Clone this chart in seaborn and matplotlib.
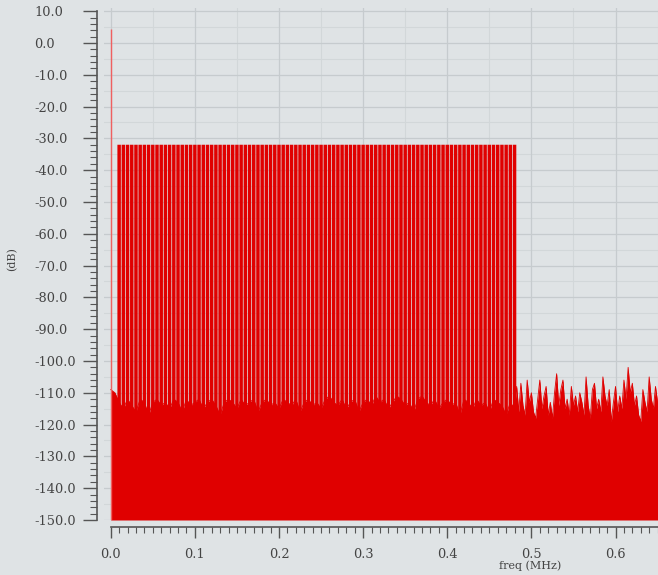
import numpy as np
import pandas as pd
import seaborn as sns
import matplotlib.pyplot as plt
from matplotlib.ticker import MultipleLocator, FormatStrFormatter

# Dados: tons em -32 dB, piso de ruido, pico DC
tone_freq = [0.010, 0.015, 0.020, 0.025, 0.030, 0.035, 0.040, 0.045, 0.050, 0.055,
             0.060, 0.065, 0.070, 0.075, 0.080, 0.085, 0.090, 0.095, 0.100, 0.105,
             0.110, 0.115, 0.120, 0.125, 0.130, 0.135, 0.140, 0.145, 0.150, 0.155,
             0.160, 0.165, 0.170, 0.175, 0.180, 0.185, 0.190, 0.195, 0.200, 0.205,
             0.210, 0.215, 0.220, 0.225, 0.230, 0.235, 0.240, 0.245, 0.250, 0.255,
             0.260, 0.265, 0.270, 0.275, 0.280, 0.285, 0.290, 0.295, 0.300, 0.305,
             0.310, 0.315, 0.320, 0.325, 0.330, 0.335, 0.340, 0.345, 0.350, 0.355,
             0.360, 0.365, 0.370, 0.375, 0.380, 0.385, 0.390, 0.395, 0.400, 0.405,
             0.410, 0.415, 0.420, 0.425, 0.430, 0.435, 0.440, 0.445, 0.450, 0.455,
             0.460, 0.465, 0.470, 0.475, 0.480]
tone_db = -32.0
dc_freq = 0.0
dc_db = 4.3

# piso de ruido (dB) na banda dos tons, a cada 0.005 MHz de 0.000 a 0.480
noise_db_a = [-109, -110,
              -113, -115, -112, -114, -116, -112, -113, -117, -113, -112, -114, -113, -115, -112, -113, -116, -112, -114, -113,
              -112, -115, -113, -112, -114, -117, -113, -112, -113, -115, -112, -114, -113, -112, -116, -113, -112, -114, -113, -115,
              -112, -113, -114, -112, -116, -113, -112, -114, -113, -115, -112, -111, -113, -114, -112, -115, -113, -112, -116, -113,
              -112, -114, -111, -113, -112, -115, -113, -111, -112, -114, -113, -116, -112, -111, -113, -114, -112, -115, -113, -112,
              -114, -113, -117, -112, -113, -115, -112, -114, -113, -116, -112, -113, -114, -117, -113, -115]
# piso de ruido acima da banda, a cada 0.0025 MHz de 0.4825 a 0.650
noise_db_b = [-108, -116, -107, -114, -117, -106, -113, -110, -116, -118,
              -112, -106, -115, -111, -108, -117, -113, -118, -110, -104,
              -114, -109, -106, -115, -112, -117, -108, -114, -111, -116,
              -110, -113, -117, -105, -114, -118, -109, -107, -115, -112,
              -116, -105, -111, -114, -109, -119, -113, -108, -116, -111,
              -115, -106, -112, -102, -110, -107, -114, -111, -117, -119,
              -109, -113, -116, -105, -112, -115, -108, -113]

freq_a = np.linspace(0.0, 0.48, len(noise_db_a))
freq_b = np.linspace(0.4825, 0.65, len(noise_db_b))
df = pd.DataFrame({'freq': np.concatenate([freq_a, freq_b]),
                   'db': noise_db_a + noise_db_b})

red = '#e00000'
bg = '#dfe3e5'
txt = '#444444'
floor = -150

plt.rcParams['font.family'] = ['DejaVu Serif']
fig = plt.figure(figsize=(6.58, 5.75), dpi=100, facecolor=bg)
ax = fig.add_axes([104 / 658, 1 - 520 / 575, 1 - 104 / 658, (520 - 8) / 575])
ax.set_facecolor(bg)

# grade
for gx in [0.05, 0.15, 0.25, 0.35, 0.45, 0.55, 0.65]:
    ax.axvline(gx, color='#d2d7d9', lw=0.8, zorder=0)
for gy in range(-145, 10, 10):
    ax.axhline(gy, color='#d2d7d9', lw=0.8, zorder=0)
ax.xaxis.set_major_locator(MultipleLocator(0.1))
ax.yaxis.set_major_locator(MultipleLocator(10))
ax.grid(True, which='major', color='#c6cbce', lw=0.9, zorder=0)
ax.set_axisbelow(True)

# piso de ruido
sns.lineplot(data=df, x='freq', y='db', color=red, lw=0.6, ax=ax, zorder=2)
ax.fill_between(df['freq'], df['db'], floor, color=red, lw=0, zorder=2)

# tons e pico DC
tones = ax.vlines(tone_freq, floor, tone_db, color=red, lw=2.5, zorder=3)
tones.set_snap(False)
ax.vlines([dc_freq], floor, dc_db, color='#f06060', lw=1.0, zorder=3)

ax.set_xlim(-0.008, 0.6505)
ax.set_ylim(-150, 11)

# eixos tipo regua
for s in ['top', 'right']:
    ax.spines[s].set_visible(False)
ax.spines['left'].set_position(('outward', 5))
ax.spines['bottom'].set_position(('outward', 5))
ax.spines['left'].set_bounds(-150, 10)
ax.spines['bottom'].set_bounds(0, 0.6505)
for s in ['left', 'bottom']:
    ax.spines[s].set_color('#555555')
    ax.spines[s].set_linewidth(1.2)

ax.yaxis.set_minor_locator(MultipleLocator(2))
ax.xaxis.set_minor_locator(MultipleLocator(0.01))
ax.tick_params(axis='y', which='major', length=10, width=1.0, color='#555555',
               pad=35, labelsize=9.3, labelcolor=txt)
ax.tick_params(axis='y', which='minor', length=5, width=0.8, color='#555555')
ax.tick_params(axis='x', which='major', length=8, width=1.0, color='#555555',
               pad=7, labelsize=9.3, labelcolor=txt)
ax.tick_params(axis='x', which='minor', length=4, width=0.8, color='#555555')
ax.yaxis.set_major_formatter(FormatStrFormatter('%.1f'))
ax.xaxis.set_major_formatter(FormatStrFormatter('%.1f'))
for lab in ax.get_yticklabels():
    lab.set_horizontalalignment('left')

ax.set_xlabel('freq (MHz)', fontsize=8, color=txt)
ax.set_ylabel('(dB)', fontsize=8, color=txt)
ax.xaxis.set_label_coords((530 - 104) / 554, -0.079)
ax.yaxis.set_label_coords(-0.157, 0.51)

fig.savefig('out.png', dpi=100, facecolor=bg)
